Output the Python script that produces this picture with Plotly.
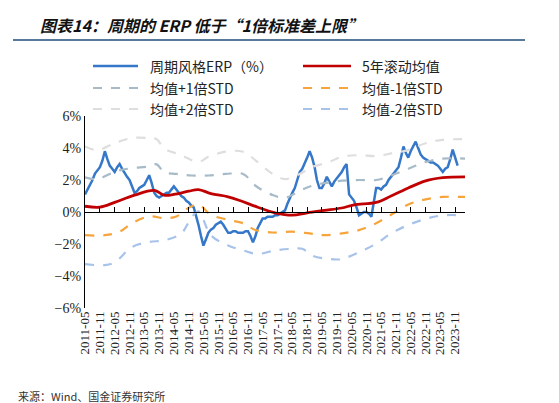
import pandas as pd
import plotly.graph_objects as go

base = pd.Timestamp("2011-05-01")

erp = [1.1,1.4,1.7,2.0,2.4,2.6,2.8,3.2,3.8,3.3,2.9,2.7,2.5,2.8,3.0,2.7,2.4,2.2,2.0,1.6,1.2,1.3,1.5,1.6,1.7,2.0,2.3,1.8,1.2,1.0,
       0.9,1.0,1.1,1.2,1.2,1.4,1.6,1.4,1.2,1.0,0.9,0.7,0.6,0.4,0.3,-0.2,-0.8,-1.5,-2.1,-1.7,-1.3,-1.1,-1.0,-0.8,-0.7,-0.6,-0.8,-1.1,-1.3,-1.3,
       -1.2,-1.2,-1.3,-1.3,-1.3,-1.2,-1.2,-1.5,-1.9,-1.5,-1.0,-0.7,-0.4,-0.4,-0.3,-0.3,-0.3,-0.2,-0.2,-0.1,0.0,0.1,0.5,0.9,1.2,1.5,2.0,2.5,2.7,3.0,
       3.4,3.8,3.4,2.8,2.0,1.5,1.5,1.8,2.2,1.9,1.6,1.9,2.1,2.3,2.5,2.8,3.0,1.1,0.9,0.7,0.3,-0.2,-0.1,0.0,0.0,-0.1,-0.3,0.6,
       1.5,1.5,1.4,1.6,1.7,2.0,2.2,2.4,2.6,2.8,3.4,4.1,3.7,3.4,3.8,4.1,4.4,4.0,3.6,3.4,3.3,3.2,3.1,3.1,3.0,2.9,2.7,2.5,2.7,2.8,
       3.3,3.9,3.4,2.9]

mean_m = [0,6,12,20,28,32,36,42,46,51,58,63,70,77,84,90,97,104,109,118,124,131,138,145,154]
mean_v = [0.36,0.3,0.6,1.05,1.35,1.05,1.1,1.3,1.4,1.15,0.95,0.7,0.3,-0.05,-0.2,-0.05,0.1,0.25,0.45,0.6,1.0,1.5,1.95,2.15,2.2]

p1_m = [0,5,10,14,19,26,29,32,37,43,50,57,64,69,76,81,87,92,99,104,111,118,124,131,138,145,154]
p1_v = [2.17,2.06,2.38,2.6,2.74,2.85,2.98,2.49,2.38,2.28,2.28,2.38,2.38,1.64,1.06,0.89,1.32,1.64,1.85,1.96,2.0,2.0,2.28,2.7,3.13,3.34,3.34]

p2_m = [0,5,12,19,26,29,32,39,46,50,57,64,69,76,81,87,92,99,104,111,118,124,131,138,145,154]
p2_v = [4.09,3.87,4.3,4.62,4.62,4.55,3.98,3.55,3.13,3.45,3.77,3.77,3.23,2.38,2.06,2.38,2.81,3.13,3.45,3.55,3.49,3.66,3.87,4.3,4.51,4.55]

m1_m = [0,8,14,19,26,32,37,42,46,51,58,64,69,76,84,91,97,104,111,118,124,131,138,145,154]
m1_v = [-1.45,-1.45,-1.23,-0.7,-0.28,-0.38,-0.28,0.26,0.47,-0.17,-0.49,-0.7,-1.13,-1.28,-1.23,-1.34,-1.45,-1.34,-1.13,-0.7,-0.17,0.47,0.79,0.94,0.94]

m2_m = [0,8,12,19,26,32,39,43,46,51,58,64,70,77,84,88,92,99,104,111,118,124,131,138,145,154]
m2_v = [-3.26,-3.32,-3.15,-2.19,-1.87,-1.77,-1.34,-0.38,0.04,-1.45,-2.09,-2.4,-2.62,-2.4,-2.3,-2.3,-2.72,-2.94,-2.94,-2.51,-1.98,-1.34,-0.81,-0.43,-0.21,-0.21]

names = ["周期风格ERP（%）", "5年滚动均值", "均值+1倍STD", "均值-1倍STD", "均值+2倍STD", "均值-2倍STD"]
colors = ["#3577c8", "#c00000", "#a6bac8", "#f6a43c", "#dedede", "#a8c3ea"]

def dates(ms):
    return [base + pd.DateOffset(months=int(m)) for m in ms]

series = [(range(len(erp)), erp), (mean_m, mean_v), (p1_m, p1_v), (m1_m, m1_v), (p2_m, p2_v), (m2_m, m2_v)]

fig = go.Figure()
for i, (ms, vs) in enumerate(series):
    if i == 0:
        line = dict(color=colors[i], width=2.5)
    elif i == 1:
        line = dict(color=colors[i], width=2.8, shape="spline")
    else:
        line = dict(color=colors[i], width=2.2, dash="dash", shape="spline")
    fig.add_trace(go.Scatter(x=dates(ms), y=vs, name=names[i], mode="lines", line=line))
fig.add_trace(go.Scatter(x=[base], y=[None], xaxis="x2", showlegend=False, hoverinfo="skip"))

xr = ["2011-05-01", "2024-03-01"]
serif = "Liberation Serif, Times New Roman, serif"
fig.update_layout(
    width=559, height=403, paper_bgcolor="white", plot_bgcolor="white",
    margin=dict(l=77, r=102, t=108, b=103, autoexpand=False),
    showlegend=False,
    font=dict(family=serif, size=13, color="#222"),
    xaxis=dict(type="date", range=xr, tick0="2011-05-01", dtick="M6", tickformat="%Y-%m",
               tickangle=-90, showgrid=False, showline=False, ticks="", zeroline=False,
               tickfont=dict(size=13)),
    xaxis2=dict(type="date", range=xr, tick0="2011-05-01", dtick="M6", overlaying="x",
                anchor="free", position=0.5, side="bottom", showline=True, linecolor="black",
                linewidth=1.2, ticks="inside", ticklen=5, tickcolor="black",
                showticklabels=False, showgrid=False, zeroline=False),
    yaxis=dict(range=[-6, 6], dtick=2, ticksuffix="%", showgrid=False, zeroline=False,
               showline=True, linecolor="black", linewidth=1.2, ticks="", tickfont=dict(size=14)),
)

# manual legend (pixel positions converted to paper coords)
def px(xp): return (xp - 77) / 380
def py(yp): return (300 - yp) / 192
cols = [(85, 130, 140), (295, 343, 352)]
rows = [58, 80, 101]
for i in range(6):
    c = cols[i % 2]; r = rows[i // 2]
    dash = "solid" if i < 2 else "dash"
    fig.add_shape(type="line", xref="paper", yref="paper", x0=px(c[0]), x1=px(c[1]), y0=py(r), y1=py(r),
                  line=dict(color=colors[i], width=2.5 if i < 2 else 2.2, dash=dash))
    fig.add_annotation(text=names[i], xref="paper", yref="paper", x=px(c[2]), y=py(r),
                       xanchor="left", yanchor="middle", showarrow=False,
                       font=dict(family="Noto Sans CJK SC, " + serif, size=14, color="#222"))

fig.add_annotation(text="<b><i>图表14：周期的 ERP 低于“1倍标准差上限”</i></b>", xref="paper", yref="paper",
                   x=px(30), y=py(17), xanchor="left", yanchor="middle", showarrow=False,
                   font=dict(family="Noto Sans CJK SC", size=16, color="#111"))
fig.add_shape(type="line", xref="paper", yref="paper", x0=px(5), x1=px(517), y0=py(32), y1=py(32),
              line=dict(color="#1f4e79", width=1.5))
fig.add_annotation(text="来源：Wind、国金证券研究所", xref="paper", yref="paper",
                   x=px(8), y=py(388), xanchor="left", yanchor="middle", showarrow=False,
                   font=dict(family="Noto Sans CJK SC", size=11, color="#333"))
fig.write_html("out.html")
